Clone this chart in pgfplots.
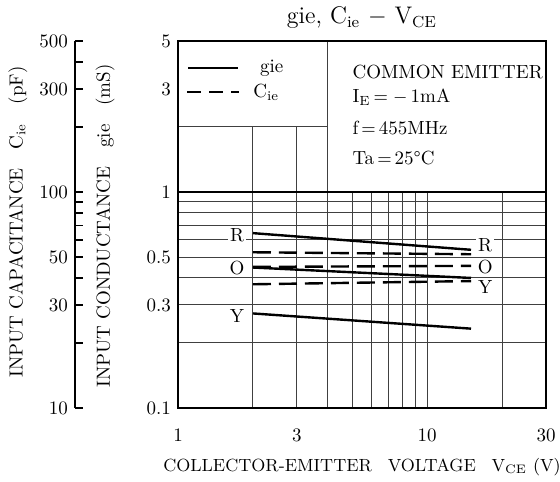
\documentclass[border=0pt]{standalone}
\usepackage{pgfplots}
\usepackage{pgfplotstable}
\pgfplotsset{compat=1.18}

\pgfplotstableread{
V gR gO gY
2 0.645 0.447 0.274
15 0.540 0.400 0.233
}\gietable
\pgfplotstableread{
V CR CO CY
2 52.6 45.0 37.4
15 51.5 45.5 38.7
}\cietable

\begin{document}
\begin{tikzpicture}[font=\fontsize{9.5}{11}\selectfont]
\path[use as bounding box] (-89pt,-36.5pt) rectangle (191pt,204pt);
\begin{axis}[name=main, at={(0,0)}, anchor=south west, scale only axis,
  width=184pt, height=183.5pt, xmode=log, ymode=log,
  xmin=1, xmax=30, ymin=0.1, ymax=5,
  xtick={1,3,10,30}, xticklabels={1,3,10,30},
  ytick={0.1,0.3,0.5,1,3,5}, yticklabels={0.1,0.3,0.5,1,3,5},
  minor xtick={2,4,5,6,7,8,9,20},
  minor ytick={0.2,0.4,0.6,0.7,0.8,0.9,2,4},
  grid=both,
  major grid style={black!75, line width=0.5pt},
  minor grid style={black!75, line width=0.5pt},
  tick style={draw=none},
  axis line style={line width=1pt},
  xticklabel style={yshift=-7pt},
  clip=false]
\fill[white] (axis cs:1,2) rectangle (axis cs:4,5);
\fill[white] (axis cs:4,1) rectangle (axis cs:30,5);
\draw[black!75, line width=0.5pt] (axis cs:1,2) -- (axis cs:4,2);
\draw[black!75, line width=0.5pt] (axis cs:4,1) -- (axis cs:4,5);
\draw[black, line width=0.6pt] (axis cs:1,1) -- (axis cs:30,1);
\draw[line width=1pt] (rel axis cs:0,0) rectangle (rel axis cs:1,1);

\addplot[black, line width=1.2pt] table[x=V, y=gR] {\gietable};
\addplot[black, line width=1.2pt] table[x=V, y=gO] {\gietable};
\addplot[black, line width=1.2pt] table[x=V, y=gY] {\gietable};
\addplot[black, line width=1.2pt, dash pattern=on 9pt off 4pt] table[x=V, y expr=\thisrow{CR}/100] {\cietable};
\addplot[black, line width=1.2pt, dash pattern=on 9pt off 4pt] table[x=V, y expr=\thisrow{CO}/100] {\cietable};
\addplot[black, line width=1.2pt, dash pattern=on 9pt off 4pt] table[x=V, y expr=\thisrow{CY}/100] {\cietable};

\node[fill=white, inner sep=1pt] at (axis cs:1.726,0.633) {R};
\node[fill=white, inner sep=1pt] at (axis cs:1.726,0.447) {O};
\node[fill=white, inner sep=1pt] at (axis cs:1.726,0.266) {Y};
\node[fill=white, inner sep=1pt] at (axis cs:17.1,0.565) {R};
\node[fill=white, inner sep=1pt] at (axis cs:17.1,0.451) {O};
\node[fill=white, inner sep=1pt] at (axis cs:17.1,0.364) {Y};

\draw[line width=0.8pt] (axis cs:1.097,3.75) -- (axis cs:1.742,3.75);
\node[anchor=west, inner sep=0pt] at (axis cs:2.13,3.75) {gie};
\draw[line width=1pt, dash pattern=on 7pt off 4pt] (axis cs:1.09,2.90) -- (axis cs:1.76,2.90);
\node[anchor=west, inner sep=0pt] at (axis cs:2.0,2.90) {C\textsubscript{ie}};

\node[anchor=west, inner sep=0pt] at (axis cs:5,3.59) {COMMON EMITTER};
\node[anchor=west, inner sep=0pt] at (axis cs:5,2.75) {I\textsubscript{E}$\,=-\,$1mA};
\node[anchor=west, inner sep=0pt] at (axis cs:5,1.98) {f$\,=\,$455MHz};
\node[anchor=west, inner sep=0pt] at (axis cs:5,1.44) {Ta$\,=\,$25\textdegree C};
\end{axis}

\begin{axis}[at={(-51.5pt,0)}, anchor=south west, scale only axis,
  width=1pt, height=183.5pt, ymode=log, ymin=10, ymax=500,
  xmin=0, xmax=1, hide x axis, axis y line*=left,
  ytick={10,30,50,100,300,500}, yticklabels={10,30,50,100,300,500},
  minor ytick={20,40,60,70,80,90,200,400},
  tick align=inside, major tick length=4pt, minor tick length=4pt,
  axis line style={line width=0.8pt},
  tick style={line width=0.8pt, black}]
\addplot[draw=none] coordinates {(0,10)};
\end{axis}

\node at (92pt,195pt) {\fontsize{12}{14}\selectfont gie, C\textsubscript{ie} $-$ V\textsubscript{CE}};
\node[rotate=90] at (-80pt,93pt) {INPUT CAPACITANCE\quad C\textsubscript{ie}\quad (pF)};
\node[rotate=90] at (-36.5pt,91pt) {INPUT CONDUCTANCE\quad gie\quad (mS)};
\node at (92pt,-29.5pt) {\fontsize{8.8}{10}\selectfont COLLECTOR-EMITTER\hspace{0.9em}VOLTAGE\hspace{0.9em}V\textsubscript{CE} (V)};
\end{tikzpicture}
\end{document}
